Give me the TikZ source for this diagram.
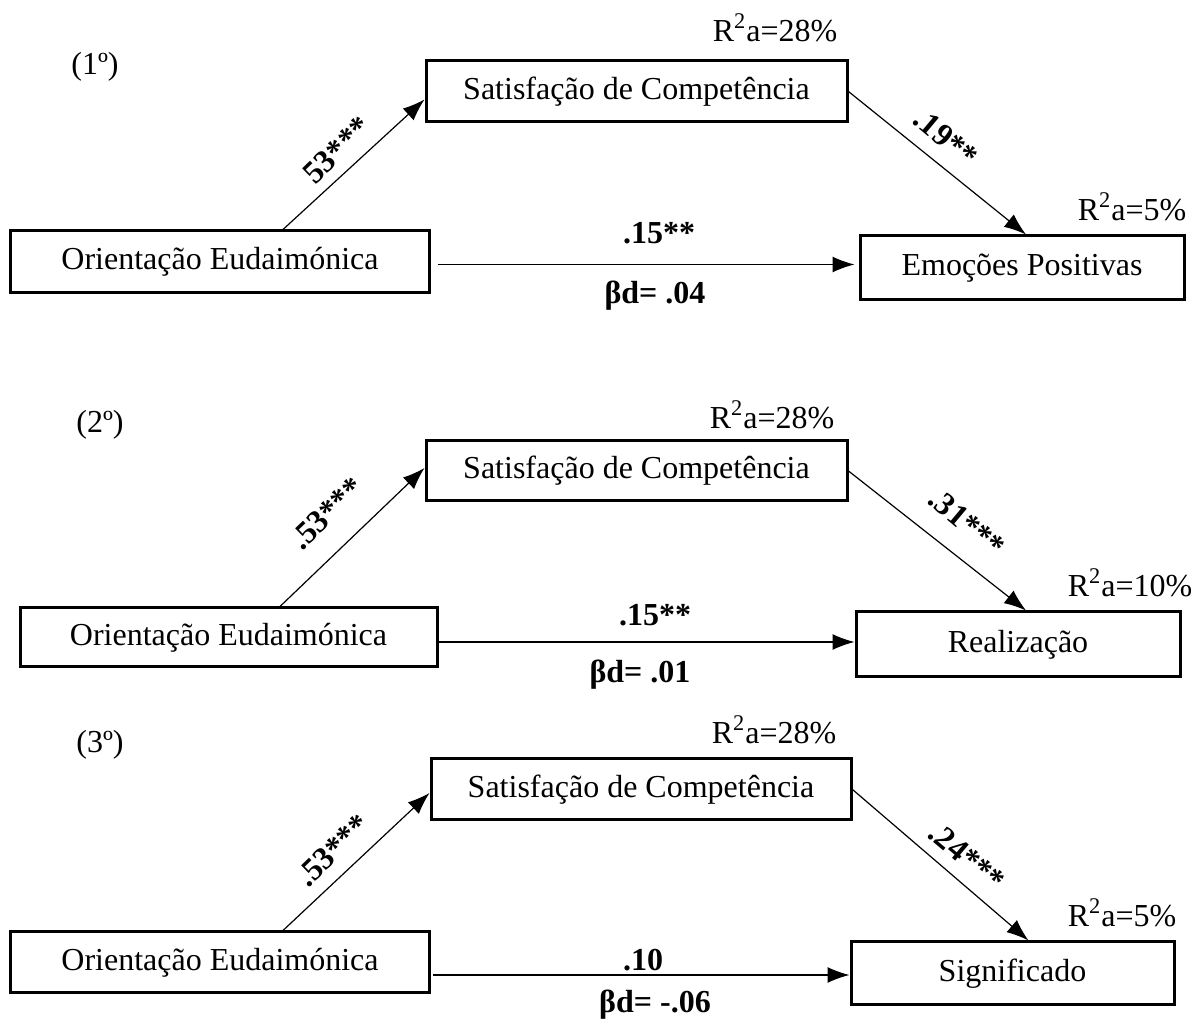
\documentclass[tikz,border=0pt]{standalone}
\usepackage{fontspec}
\setmainfont{Liberation Serif}
\usepackage{tikz}
\usetikzlibrary{arrows.meta}

\begin{document}
\begin{tikzpicture}[x=25pt, y=25pt, font=\fontsize{16pt}{19pt}\selectfont,
    box/.style={draw, line width=1.5pt, rectangle, inner sep=0pt},
    coef/.style={font=\fontsize{16pt}{19pt}\selectfont\bfseries, inner sep=1pt},
    arr/.style={line width=0.6pt, -{Latex[length=11pt, width=8pt]}}]
        \useasboundingbox (0,0) rectangle (23.82,-20.4);

        % (1) Emocoes Positivas
        \node (lbl1) at (1.9,-1.34) {(1º)};
        \node[box, minimum width=210.5pt, minimum height=30.5pt] (sat1) at (12.73,-1.83) {Satisfação de Competência};
        \node[box, minimum width=209pt, minimum height=31pt] (ori1) at (4.4,-5.24) {Orientação Eudaimónica};
        \node[box, minimum width=162pt, minimum height=32pt] (emo) at (20.44,-5.36) {Emoções Positivas};
        \node (r1a) at (15.5,-0.56) {R\textsuperscript{2}a=28\%};
        \node (r1b) at (22.64,-4.14) {R\textsuperscript{2}a=5\%};
        \node[coef, rotate=44] (a1) at (6.74,-3.0) {53***};
        \node[coef, rotate=-40] (b1) at (18.92,-2.76) {.19**};
        \node[coef] (c1) at (13.18,-4.66) {.15**};
        \node[coef] (d1) at (13.1,-5.92) {βd= .04};
        \coordinate (h1) at ([yshift=-1.25pt]ori1.east);

        \draw[arr] ([xshift=31.5pt]ori1.north) -- ([yshift=-4pt]sat1.west);
        \draw[arr] (sat1.east) -- ([xshift=2pt]emo.north);
        \draw[arr, shorten <=3.5pt, shorten >=2pt] (h1) -- (h1 -| emo.west);

        % (2) Realizacao
        \node (lbl2) at (2.0,-8.5) {(2º)};
        \node[box, minimum width=210.5pt, minimum height=30pt] (sat2) at (12.73,-9.42) {Satisfação de Competência};
        \node[box, minimum width=208.5pt, minimum height=29.5pt] (ori2) at (4.57,-12.75) {Orientação Eudaimónica};
        \node[box, minimum width=162pt, minimum height=32.5pt] (real) at (20.36,-12.89) {Realização};
        \node (r2a) at (15.44,-8.3) {R\textsuperscript{2}a=28\%};
        \node (r2b) at (22.6,-11.66) {R\textsuperscript{2}a=10\%};
        \node[coef, rotate=44] (a2) at (6.54,-10.26) {.53***};
        \node[coef, rotate=-40] (b2) at (19.34,-10.46) {.31***};
        \node[coef] (c2) at (13.1,-12.3) {.15**};
        \node[coef] (d2) at (12.8,-13.5) {βd= .01};
        \coordinate (h2) at ([yshift=-2.25pt]ori2.east);

        \draw[arr] ([xshift=25.75pt]ori2.north) -- ([yshift=1.5pt]sat2.west);
        \draw[arr] (sat2.east) -- ([xshift=4pt]real.north);
        \draw[arr] (h2) -- (h2 -| real.west);

        % (3) Significado
        \node (lbl3) at (2.0,-14.9) {(3º)};
        \node[box, minimum width=210pt, minimum height=30.5pt] (sat3) at (12.82,-15.79) {Satisfação de Competência};
        \node[box, minimum width=209pt, minimum height=30.5pt] (ori3) at (4.4,-19.25) {Orientação Eudaimónica};
        \node[box, minimum width=161.5pt, minimum height=31.5pt] (sig) at (20.25,-19.47) {Significado};
        \node (r3a) at (15.48,-14.6) {R\textsuperscript{2}a=28\%};
        \node (r3b) at (22.44,-18.26) {R\textsuperscript{2}a=5\%};
        \node[coef, rotate=44] (a3) at (6.66,-17.0) {.53***};
        \node[coef, rotate=-40] (b3) at (19.34,-17.14) {.24***};
        \node[coef] (c3) at (12.86,-19.2) {.10};
        \node[coef] (d3) at (13.1,-20.1) {βd= -.06};
        \coordinate (h3) at ([yshift=-6.25pt]ori3.east);

        \draw[arr] ([xshift=31.5pt]ori3.north) -- ([yshift=-1.75pt]sat3.west);
        \draw[arr] (sat3.east) -- ([xshift=8pt]sig.north);
        \draw[arr, shorten <=1pt] (h3) -- (h3 -| sig.west);
    \end{tikzpicture}
\end{document}
